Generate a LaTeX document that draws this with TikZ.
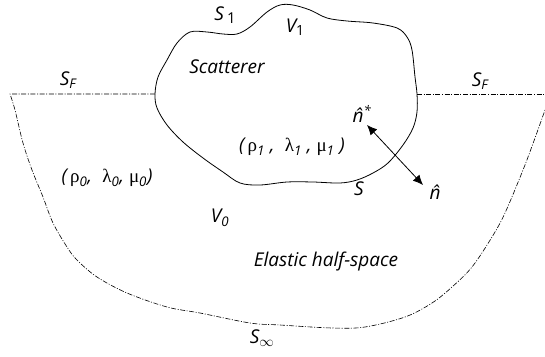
\documentclass[tikz,border=0pt]{standalone}
\usepackage{fontspec}
\setmainfont{Open Sans}
\newfontfamily\grk{Liberation Serif}
\usepackage{tikz}
\usetikzlibrary{arrows.meta, positioning, calc}
\newcommand{\gsub}[2]{{\upshape\grk #1}\textsubscript{#2}}

\begin{document}
\begin{tikzpicture}[
  x=1pt, y=-1pt,
  every node/.style={font=\itshape\fontsize{19}{22}\selectfont, inner sep=1pt},
  surface/.style={line width=0.6pt, dash pattern=on 5pt off 1.6pt on 1pt off 1.6pt},
  body/.style={line width=0.8pt},
  normal/.style={line width=0.8pt, {Latex[length=10pt,width=9pt]}-{Latex[length=10pt,width=9pt]}}]
  \useasboundingbox (0,0) rectangle (545,356);
  % Free surface and far boundary
  \draw[surface] (155,94) -- plot[smooth, tension=0.55] coordinates {(10,94) (15,110) (23,143)
    (32,170) (43,197) (53,223) (67,247) (77,260) (97,277) (127,293) (167,307) (200,313)
    (250,323) (280,325) (332,328) (365,327) (405,317) (432,303) (452,287) (472,267)
    (492,237) (505,213) (523,170) (535,138) (545,110)};
  \draw[surface] (417,94) -- (545,94);
  % Scatterer
  \draw[body] plot[smooth cycle, tension=0.55] coordinates {(155,94) (158,77) (167,60)
    (177,43) (190,32) (207,32) (223,34) (237,34) (250,27) (267,12) (280,5) (293,5)
    (310,10) (327,18) (347,21) (373,23) (397,28) (407,37) (412,50) (415,77) (417,94)
    (417,112) (413,128) (403,145) (388,163) (373,173) (357,180) (340,183) (313,182)
    (287,182) (260,185) (240,183) (223,172) (203,158) (183,142) (167,125) (157,108)};
  % Normal vectors
  \coordinate (nin) at (367,125);
  \coordinate (nout) at (423,185);
  \draw[normal] (nin) -- (nout);
  % Labels
  \node (sone) at (225,15) {S\kern3pt\raisebox{-3pt}{\upshape\fontsize{15}{16}\selectfont 1}};
  \node (vone) at (295,27) {V\raisebox{-3pt}{\upshape\fontsize{14}{16}\selectfont 1}};
  \node (scat) at (227,67) {Scatterer};
  \node (sfl) at (68,80) {S\textsubscript{F}};
  \node (sfr) at (480,81) {S\textsubscript{F}};
  \node (nstar) at (362,114) {\^n\textsuperscript{*}};
  \node (mat1) at (292,147) {(\,\gsub{ρ}{1} ,\; \gsub{λ}{1} , \gsub{μ}{1} )};
  \node (sbody) at (359,189) {S};
  \node (nhat) at (435,192) {\^n};
  \node (mat0) at (107,178) {(\,\gsub{ρ}{0},\; \gsub{λ}{0}, \gsub{μ}{0})};
  \node (vzero) at (220,218) {V\textsubscript{0}};
  \node (half) at (326,262) {Elastic half-space};
  \node (sinf) at (262,338) {S\textsubscript{$\infty$}};
\end{tikzpicture}
\end{document}
